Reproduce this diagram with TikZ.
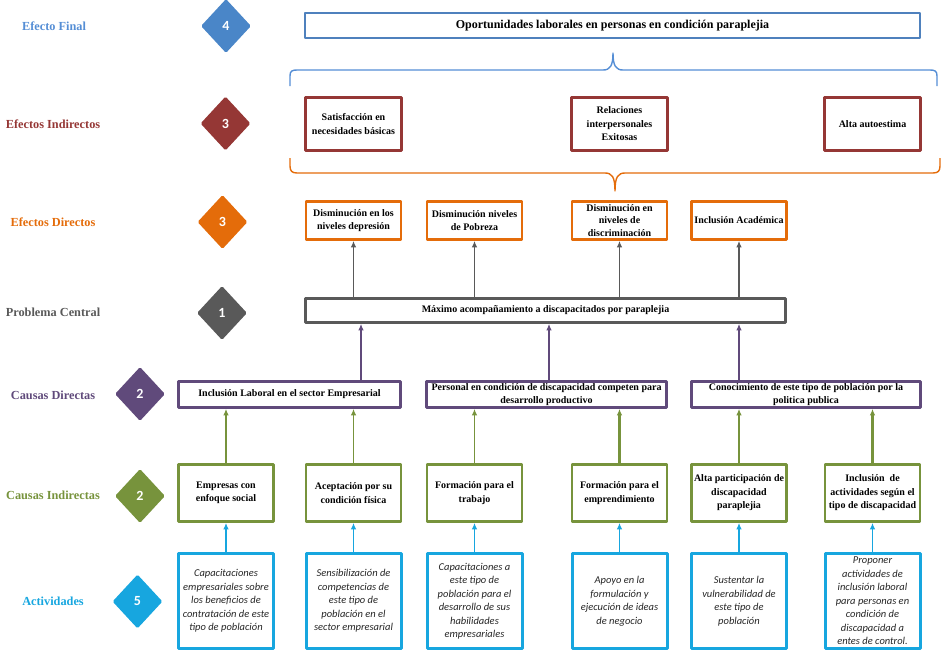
\documentclass[tikz,border=0pt]{standalone}
\usepackage{fontspec}
\setmainfont{Liberation Serif}
\newfontfamily\numfont{Carlito}
\newfontfamily\actfont{Carlito}
\usetikzlibrary{shapes.geometric,arrows.meta}
\definecolor{cfinal}{HTML}{4F81BD}
\definecolor{cfinallbl}{HTML}{558ED5}
\definecolor{cfinalnum}{HTML}{4A86C8}
\definecolor{cindir}{HTML}{953735}
\definecolor{cdir}{HTML}{E46C0A}
\definecolor{cprob}{HTML}{595959}
\definecolor{ccausa}{HTML}{604A7B}
\definecolor{ccausaind}{HTML}{77933C}
\definecolor{cact}{HTML}{17A6DF}

\begin{document}
\begin{tikzpicture}[x=1pt,y=-1pt,line join=round,>={Latex[length=6.5pt,width=5.5pt]},
  nivel/.style={font=\fontsize{12.3}{14}\selectfont\bfseries,text=#1},
  rombo/.style={diamond,fill=#1,minimum width=50pt,minimum height=54pt,inner sep=0pt,
    rounded corners=1.5pt,text=white,font=\numfont\fontsize{14}{14}\selectfont\bfseries},
  caja/.style={draw=#1,line width=2.6pt,align=center,inner sep=1pt,
    font=\fontsize{10}{13.5}\selectfont\bfseries},
  actividad/.style={draw=cact,line width=3pt,align=center,inner sep=1pt,
    minimum width=95pt,minimum height=95pt,text=black!85,
    font=\actfont\fontsize{10.5}{13.5}\selectfont\itshape},
  flecha/.style={->,draw=#1,line width=1.8pt}]
  \useasboundingbox (0,0) rectangle (946,664);

  % niveles
  \node[nivel=cfinallbl] (lfin) at (54,26) {Efecto Final};
  \node[nivel=cindir] (lind) at (53,124) {Efectos Indirectos};
  \node[nivel=cdir] (ldir) at (53,222) {Efectos Directos};
  \node[nivel=cprob] (lprob) at (53,312) {Problema Central};
  \node[nivel=ccausa] (lcd) at (53,395) {Causas Directas};
  \node[nivel=ccausaind] (lci) at (53,495) {Causas Indirectas};
  \node[nivel=cact] (lact) at (53,601) {Actividades};

  \node[rombo=cfinalnum] (n4) at (226,26) {4};
  \node[rombo=cindir] (n3a) at (225.5,123.5) {3};
  \node[rombo=cdir] (n3b) at (222.5,222) {3};
  \node[rombo=cprob] (n1) at (222,313) {1};
  \node[rombo=ccausa] (n2a) at (140,394) {2};
  \node[rombo=ccausaind] (n2b) at (140,496) {2};
  \node[rombo=cact] (n5) at (137.5,601.5) {5};

  % efecto final
  \node[caja=cfinal,line width=2.2pt,minimum width=615pt,minimum height=25pt,
    font=\fontsize{12}{14}\selectfont\bfseries] (fin) at (612.5,25.5)
    {Oportunidades laborales en personas en condición paraplejia};
  \draw[cfinallbl,line width=1.4pt] (290,86) -- (290,76) .. controls (290,71) and (292,70) .. (297,70)
    -- (603,70) .. controls (610,70) and (613,66) .. (613,53) .. controls (613,66) and (616,70) .. (623,70)
    -- (930,70) .. controls (935,70) and (937,71) .. (937,76) -- (937,86);

  % efectos indirectos
  \node[caja=cindir,minimum width=96pt,minimum height=53pt] (ei1) at (353.5,124)
    {Satisfacción en\\necesidades básicas};
  \node[caja=cindir,minimum width=96pt,minimum height=53pt] (ei2) at (619.5,124)
    {Relaciones\\interpersonales\\Exitosas};
  \node[caja=cindir,minimum width=96pt,minimum height=53pt] (ei3) at (872.5,124)
    {Alta autoestima};
  \draw[cdir,line width=1.4pt] (290,158) -- (290,166) .. controls (290,171) and (292,173) .. (297,173)
    -- (605,173) .. controls (612,173) and (615,177) .. (615,191) .. controls (615,177) and (618,173) .. (625,173)
    -- (933,173) .. controls (938,173) and (940,171) .. (940,166) -- (940,158);

  % efectos directos
  \node[caja=cdir,minimum width=95pt,minimum height=38pt] (ed1) at (353.5,220.5)
    {Disminución en los\\niveles depresión};
  \node[caja=cdir,minimum width=95pt,minimum height=38pt] (ed2) at (474.5,220.5)
    {Disminución niveles\\de Pobreza};
  \node[caja=cdir,minimum width=95pt,minimum height=38pt,inner sep=0pt,
    font=\fontsize{10}{12.5}\selectfont\bfseries] (ed3) at (619.5,220.5)
    {Disminución en\\niveles de\\discriminación};
  \node[caja=cdir,minimum width=95pt,minimum height=38pt] (ed4) at (739,220.5)
    {Inclusión Académica};

  % problema central
  \node[caja=cprob,minimum width=480pt,minimum height=24pt] (pc) at (545.5,310.5)
    {Máximo acompañamiento a discapacitados por paraplejia};
  \foreach \e in {ed1,ed2,ed3,ed4}
    \draw[flecha=cprob] (pc.north -| \e) -- (\e.south);

  % causas directas
  \node[caja=ccausa,minimum width=222pt,minimum height=26pt] (cd1) at (289.5,394.5)
    {Inclusión Laboral en el sector Empresarial};
  \node[caja=ccausa,minimum width=240pt,minimum height=26pt] (cd2) at (546.5,394.5)
    {Personal en condición de discapacidad competen para\\desarrollo productivo};
  \node[caja=ccausa,minimum width=229pt,minimum height=26pt] (cd3) at (806,394.5)
    {Conocimiento de este tipo de población por la\\politica publica};

  % causas indirectas
  \node[caja=ccausaind,minimum width=95pt,minimum height=57pt] (ci1) at (226,493)
    {Empresas con\\enfoque social};
  \node[caja=ccausaind,minimum width=95pt,minimum height=57pt] (ci2) at (353.5,493)
    {Aceptación por su\\condición física};
  \node[caja=ccausaind,minimum width=95pt,minimum height=57pt] (ci3) at (474.5,493)
    {Formación para el\\trabajo};
  \node[caja=ccausaind,minimum width=95pt,minimum height=57pt] (ci4) at (619.5,493)
    {Formación para el\\emprendimiento};
  \node[caja=ccausaind,minimum width=95pt,minimum height=57pt] (ci5) at (739,493)
    {Alta participación de\\discapacidad\\paraplejia};
  \node[caja=ccausaind,minimum width=95pt,minimum height=57pt] (ci6) at (872.5,493)
    {Inclusión\ \ de\\actividades según el\\tipo de discapacidad};

  \draw[flecha=ccausa] ([xshift=71.5pt]cd1.north) -- ([xshift=71.5pt]cd1.north |- pc.south);
  \draw[flecha=ccausa] ([xshift=2.5pt]cd2.north) -- ([xshift=2.5pt]cd2.north |- pc.south);
  \draw[flecha=ccausa] (cd3.north -| ci5) -- (ci5 |- pc.south);

  \draw[flecha=ccausaind] (ci1.north) -- (ci1 |- cd1.south);
  \draw[flecha=ccausaind] (ci2.north) -- (ci2 |- cd1.south);
  \draw[flecha=ccausaind] (ci3.north) -- (ci3 |- cd2.south);
  \draw[flecha=ccausaind,line width=2.4pt] (ci4.north) -- (ci4 |- cd2.south);
  \draw[flecha=ccausaind] (ci5.north) -- (ci5 |- cd3.south);
  \draw[flecha=ccausaind,line width=2.4pt] (ci6.north) -- (ci6 |- cd3.south);

  % actividades
  \node[actividad] (a1) at (226,601)
    {Capacitaciones\\empresariales sobre\\los beneficios de\\contratación de este\\tipo de población};
  \node[actividad] (a2) at (353.5,601)
    {Sensibilización de\\competencias de\\este tipo de\\población en el\\sector empresarial};
  \node[actividad] (a3) at (474.5,601)
    {Capacitaciones a\\este tipo de\\población para el\\desarrollo de sus\\habilidades\\empresariales};
  \node[actividad] (a4) at (619.5,601)
    {Apoyo en la\\formulación y\\ejecución de ideas\\de negocio};
  \node[actividad] (a5) at (739,601)
    {Sustentar la\\vulnerabilidad de\\este tipo de\\población};
  \node[actividad] (a6) at (872.5,601)
    {Proponer\\actividades de\\inclusión laboral\\para personas en\\condición de\\discapacidad a\\entes de control.};
  \foreach \i in {1,...,6}
    \draw[flecha=cact] (a\i.north) -- (ci\i.south);
\end{tikzpicture}
\end{document}
